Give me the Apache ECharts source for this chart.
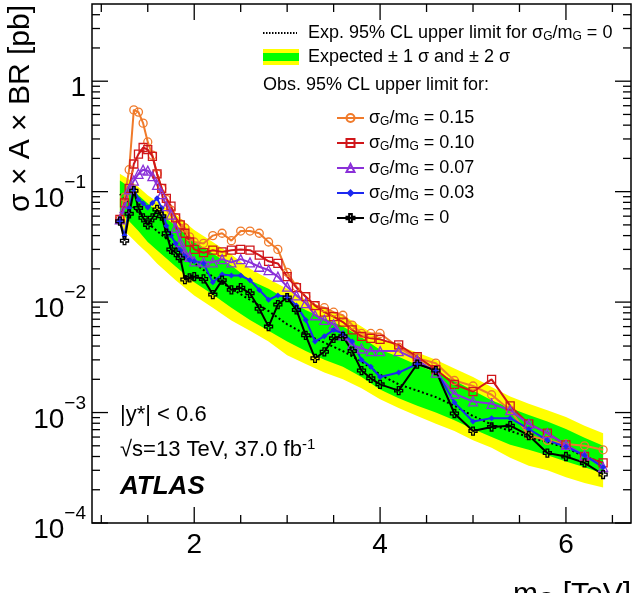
<!DOCTYPE html>
<html>
<head>
<meta charset="utf-8">
<script src="https://cdn.jsdelivr.net/npm/echarts@6/dist/echarts.min.js"></script>
<style>
  html, body { margin: 0; padding: 0; background: #fff; }
  #chart { width: 636px; height: 593px; }
</style>
</head>
<body>
<div id="chart"></div>
<script>
// resonance mass points (TeV)
const massTeV = [1.2, 1.25, 1.3, 1.35, 1.4, 1.45, 1.5, 1.55, 1.6, 1.65, 1.7, 1.75, 1.8, 1.85, 1.9, 1.95, 2.0,
  2.1, 2.2, 2.3, 2.4, 2.5, 2.6, 2.7, 2.8, 2.9, 3.0, 3.1, 3.2, 3.3, 3.4, 3.5, 3.6, 3.7, 3.8, 3.9, 4.0,
  4.2, 4.4, 4.6, 4.8, 5.0, 5.2, 5.4, 5.6, 5.8, 6.0, 6.2, 6.4]

// observed limits [pb] for each sigma_G/m_G
const obsWidth15 = [0.056, 0.089, 0.158, 0.55, 0.525, 0.417, 0.282, 0.214, 0.145, 0.107, 0.085, 0.068, 0.058, 0.051, 0.047, 0.039, 0.035,
  0.034, 0.040, 0.042, 0.036, 0.044, 0.044, 0.042, 0.035, 0.030, 0.0186, 0.0138, 0.0112, 0.0093, 0.0089, 0.0081, 0.0076, 0.0062, 0.0052, 0.0052, 0.0052,
  0.0039, 0.0031, 0.0028, 0.00195, 0.00174, 0.00145, 0.00105, 0.00062, 0.00056, 0.00052, 0.0005, 0.00046]
const obsWidth10 = [0.056, 0.079, 0.107, 0.178, 0.219, 0.251, 0.24, 0.209, 0.145, 0.107, 0.087, 0.074, 0.058, 0.050, 0.042, 0.035, 0.030,
  0.028, 0.0295, 0.0285, 0.0295, 0.030, 0.0295, 0.0266, 0.0234, 0.0224, 0.017, 0.0135, 0.0112, 0.0093, 0.0081, 0.0074, 0.0066, 0.0056, 0.0049, 0.0047, 0.0046,
  0.0041, 0.0032, 0.00245, 0.0018, 0.00155, 0.002, 0.00115, 0.00079, 0.00065, 0.00051, 0.0004, 0.00035]
const obsWidth07 = [0.056, 0.071, 0.105, 0.126, 0.145, 0.158, 0.155, 0.138, 0.115, 0.095, 0.074, 0.062, 0.047, 0.035, 0.028, 0.0257, 0.0234,
  0.0229, 0.0229, 0.0245, 0.0229, 0.0245, 0.0229, 0.0209, 0.0195, 0.017, 0.0138, 0.0115, 0.0098, 0.0076, 0.0069, 0.0063, 0.0050, 0.0041, 0.0038, 0.0036, 0.0036,
  0.0036, 0.0030, 0.0023, 0.00148, 0.00126, 0.0012, 0.00105, 0.00079, 0.00065, 0.00051, 0.00041, 0.00032]
const obsWidth03 = [0.054, 0.040, 0.071, 0.105, 0.085, 0.078, 0.072, 0.079, 0.087, 0.071, 0.049, 0.040, 0.034, 0.0295, 0.026, 0.024, 0.0234,
  0.0224, 0.0151, 0.0178, 0.0174, 0.0174, 0.0158, 0.0129, 0.0105, 0.0115, 0.0112, 0.0093, 0.0069, 0.0044, 0.0049, 0.0056, 0.0052, 0.0044, 0.0030, 0.0026, 0.0021,
  0.0023, 0.00275, 0.0024, 0.00123, 0.00083, 0.00089, 0.00089, 0.00071, 0.00056, 0.00049, 0.00041, 0.00032]
const obsWidth00 = [0.054, 0.036, 0.063, 0.102, 0.071, 0.058, 0.050, 0.058, 0.069, 0.060, 0.042, 0.030, 0.028, 0.025, 0.016, 0.0166, 0.017,
  0.0162, 0.0117, 0.0158, 0.0129, 0.0135, 0.012, 0.0087, 0.0060, 0.0095, 0.011, 0.0085, 0.0050, 0.0031, 0.00355, 0.0047, 0.0049, 0.0036, 0.0024, 0.00204, 0.0018,
  0.00158, 0.00275, 0.0024, 0.00098, 0.00068, 0.00074, 0.00076, 0.00062, 0.00043, 0.0004, 0.00035, 0.000275]

// expected limit (sigma_G/m_G = 0) and its bands [pb]
const bandMassTeV = [1.2, 1.3, 1.4, 1.5, 1.6, 1.8, 2.0, 2.2, 2.4, 2.6, 2.8, 3.0, 3.2, 3.4, 3.6, 3.8, 4.0, 4.2, 4.4, 4.6, 4.8, 5.0, 5.2, 5.4, 5.6, 5.8, 6.0, 6.2, 6.4]
const expLimit = [0.095, 0.079, 0.065, 0.052, 0.044, 0.032, 0.0224, 0.017, 0.0132, 0.0105, 0.0083, 0.0063, 0.0051, 0.0043, 0.0036, 0.0029, 0.0022, 0.0018, 0.00158, 0.00138, 0.00115, 0.00093, 0.00078, 0.00068, 0.0006, 0.00054, 0.00048, 0.0004, 0.00035]
const exp2SigUp = [0.145, 0.129, 0.11, 0.093, 0.081, 0.062, 0.045, 0.035, 0.027, 0.020, 0.0162, 0.0132, 0.0105, 0.0089, 0.0076, 0.006, 0.0047, 0.004, 0.0035, 0.0030, 0.0025, 0.0021, 0.0017, 0.0014, 0.0012, 0.00105, 0.00091, 0.00076, 0.00065]
const exp1SigUp = [0.126, 0.11, 0.093, 0.078, 0.066, 0.049, 0.035, 0.0275, 0.0214, 0.0158, 0.0132, 0.0105, 0.0085, 0.0071, 0.006, 0.0048, 0.0037, 0.0032, 0.0027, 0.0023, 0.00195, 0.00158, 0.00129, 0.0011, 0.00095, 0.00083, 0.00071, 0.00059, 0.0005]
const exp1SigDown = [0.066, 0.054, 0.044, 0.035, 0.0295, 0.021, 0.0151, 0.0117, 0.0089, 0.0069, 0.0055, 0.0044, 0.0036, 0.003, 0.0026, 0.0021, 0.00162, 0.00135, 0.00115, 0.001, 0.00085, 0.00071, 0.0006, 0.00051, 0.00046, 0.00041, 0.00036, 0.00032, 0.00028]
const exp2SigDown = [0.048, 0.040, 0.033, 0.0275, 0.0224, 0.0158, 0.0115, 0.0089, 0.0068, 0.0055, 0.0044, 0.0033, 0.00275, 0.0023, 0.002, 0.00166, 0.00132, 0.0011, 0.00093, 0.00079, 0.00068, 0.00056, 0.00048, 0.00039, 0.00033, 0.0003, 0.00026, 0.00023, 0.00021]

// axis ticks / labels
const xLabelValues = [2, 4, 6]
const xMinorTicks = [1, 1.5, 2.5, 3, 3.5, 4.5, 5, 5.5, 6.5]
const yMajorTicks = [1e-4, 1e-3, 1e-2, 1e-1, 1]

const X_MIN = 0.9
const X_MAX = 6.7
const Y_MIN = 1e-4
const Y_MAX = 5
const FONT = "'Liberation Sans', Arial, Helvetica, sans-serif"

const yMinorTicks = []
yMajorTicks.forEach(d => {
  for (let k = 2; k <= 9; k++) {
    if (d * k < Y_MAX) yMinorTicks.push(d * k)
  }
})

const subRich = {
  t: { fontSize: 18, lineHeight: 20, fontFamily: FONT, color: '#000' },
  s: { fontSize: 12, lineHeight: 10, verticalAlign: 'bottom', fontFamily: FONT, color: '#000' }
}
const widthLabel = v => `{t|σ}{s|G}{t|/m}{s|G}{t| = ${v}}`

const pairs = vals => massTeV.map((m, i) => [m, vals[i]])

function bandSeries(name, up, down, color) {
  return {
    type: 'custom',
    name: name,
    silent: true,
    z: 1,
    encode: { x: 0, y: 1 },
    data: bandMassTeV.map((m, i) => [m, up[i]]),
    renderItem(params, api) {
      if (params.dataIndex !== 0) return null
      const pts = []
      for (let i = 0; i < bandMassTeV.length; i++) pts.push(api.coord([bandMassTeV[i], up[i]]))
      for (let i = bandMassTeV.length - 1; i >= 0; i--) pts.push(api.coord([bandMassTeV[i], down[i]]))
      return { type: 'polygon', shape: { points: pts }, style: { fill: color } }
    }
  }
}

function obsSeries(name, vals, color, symbol, size) {
  return {
    type: 'line',
    name: name,
    data: pairs(vals),
    z: 5,
    symbol: symbol,
    symbolSize: size,
    showAllSymbol: true,
    lineStyle: { color: color, width: 2 },
    itemStyle: { color: 'rgba(0,0,0,0)', borderColor: color, borderWidth: 1.3 }
  }
}

const crossPath = 'path://M-1,-3L1,-3L1,-1L3,-1L3,1L1,1L1,3L-1,3L-1,1L-3,1L-3,-1L-1,-1Z'

const tickStyle = { stroke: '#000', lineWidth: 1.3 }

const chart = echarts.init(document.getElementById('chart'))

chart.setOption({
  animation: false,
  backgroundColor: '#fff',
  grid: {
    left: 92, right: 5, top: 4, bottom: 70,
    show: true, borderColor: '#000', borderWidth: 1.5, backgroundColor: 'transparent'
  },
  xAxis: {
    type: 'value',
    min: X_MIN,
    max: X_MAX,
    axisLine: { show: false },
    axisTick: { show: false },
    splitLine: { show: false },
    axisLabel: {
      customValues: xLabelValues,
      fontSize: 28,
      fontFamily: FONT,
      color: '#000',
      margin: 8
    }
  },
  yAxis: {
    type: 'log',
    logBase: 10,
    min: Y_MIN,
    max: Y_MAX,
    interval: 1,
    axisLine: { show: false },
    axisTick: { show: false },
    splitLine: { show: false },
    axisLabel: {
      margin: 6,
      padding: [3, 0, 0, 0],
      formatter(v) {
        const lg = Math.log10(v)
        const e = Math.round(lg)
        if (Math.abs(lg - e) > 0.01) return ''
        if (e === 0) return '{b|1}'
        return '{b|10}{sup|−' + (-e) + '}'
      },
      rich: {
        b: { fontSize: 28, lineHeight: 40, verticalAlign: 'bottom', fontFamily: FONT, color: '#000' },
        sup: { fontSize: 19, lineHeight: 18, verticalAlign: 'top', fontFamily: FONT, color: '#000' }
      }
    }
  },
  legend: {
    data: ['w15', 'w10', 'w07', 'w03', 'w00'],
    orient: 'vertical',
    left: 331,
    top: 104,
    itemWidth: 27,
    itemHeight: 10,
    itemGap: 6,
    selectedMode: false,
    formatter(name) {
      return widthLabel({ w15: '0.15', w10: '0.10', w07: '0.07', w03: '0.03', w00: '0' }[name])
    },
    textStyle: { fontSize: 18, fontFamily: FONT, color: '#000', rich: subRich }
  },
  graphic: [
    { type: 'line', shape: { x1: 263, y1: 33, x2: 297, y2: 33 }, style: { stroke: '#000', lineWidth: 2, lineDash: [1.5, 1.5] } },
    { type: 'text', x: 308, y: 33, style: { text: '{t|Exp. 95% CL upper limit for }' + widthLabel('0'), rich: subRich, fill: '#000', textVerticalAlign: 'middle', verticalAlign: 'middle' } },
    { type: 'rect', shape: { x: 263, y: 49, width: 36, height: 16 }, style: { fill: '#ffff00' } },
    { type: 'rect', shape: { x: 263, y: 53, width: 36, height: 8 }, style: { fill: '#00ff00' } },
    { type: 'text', x: 308, y: 57, style: { text: 'Expected ± 1 σ and ± 2 σ', font: '18px ' + FONT, fill: '#000', textVerticalAlign: 'middle', verticalAlign: 'middle' } },
    { type: 'text', x: 263, y: 85, style: { text: 'Obs. 95% CL upper limit for:', font: '18px ' + FONT, fill: '#000', textVerticalAlign: 'middle', verticalAlign: 'middle' } },
    { type: 'text', x: 120, y: 415, style: { text: '|y*| < 0.6', font: '22px ' + FONT, fill: '#000', textVerticalAlign: 'middle', verticalAlign: 'middle' } },
    {
      type: 'text', x: 120, y: 450,
      style: {
        text: '{n|√s=13 TeV, 37.0 fb}{p|-1}',
        rich: {
          n: { fontSize: 22, lineHeight: 26, fontFamily: FONT, color: '#000' },
          p: { fontSize: 15, lineHeight: 14, verticalAlign: 'top', fontFamily: FONT, color: '#000' }
        },
        textVerticalAlign: 'middle', verticalAlign: 'middle'
      }
    },
    { type: 'text', x: 120, y: 487, style: { text: 'ATLAS', font: 'italic bold 26px ' + FONT, fill: '#000', textVerticalAlign: 'middle', verticalAlign: 'middle' } },
    {
      type: 'text', x: 631, y: 595,
      style: {
        text: '{m|m}{g|G}{m| [TeV]}',
        rich: {
          m: { fontSize: 30, lineHeight: 32, fontFamily: FONT, color: '#000' },
          g: { fontSize: 21, lineHeight: 15, verticalAlign: 'bottom', fontFamily: FONT, color: '#000' }
        },
        textAlign: 'right', align: 'right', textVerticalAlign: 'middle', verticalAlign: 'middle'
      }
    },
    {
      type: 'text', x: 21, y: 5, rotation: Math.PI / 2,
      style: { text: 'σ × A × BR [pb]', font: '30px ' + FONT, fill: '#000', textAlign: 'right', align: 'right', textVerticalAlign: 'middle', verticalAlign: 'middle' }
    }
  ],
  series: [
    bandSeries('band2', exp2SigUp, exp2SigDown, '#ffff00'),
    bandSeries('band1', exp1SigUp, exp1SigDown, '#00ff00'),
    {
      type: 'line',
      name: 'exp',
      data: bandMassTeV.map((m, i) => [m, expLimit[i]]),
      symbol: 'none',
      z: 3,
      lineStyle: { color: '#000', width: 2, type: [2, 2.5] }
    },
    obsSeries('w15', obsWidth15, '#f07a2a', 'circle', 8),
    obsSeries('w10', obsWidth10, '#d0161a', 'rect', 8),
    obsSeries('w07', obsWidth07, '#8a30d8', 'triangle', 9),
    {
      type: 'line',
      name: 'w03',
      data: pairs(obsWidth03),
      z: 5,
      symbol: 'diamond',
      symbolSize: 6,
      showAllSymbol: true,
      lineStyle: { color: '#1c28f0', width: 2 },
      itemStyle: { color: '#1c28f0' }
    },
    obsSeries('w00', obsWidth00, '#000000', crossPath, 8),
    {
      // x ticks, bottom and top
      type: 'custom',
      name: 'xticks',
      silent: true,
      z: 10,
      encode: { x: 0, y: 1 },
      data: xLabelValues.map(v => [v, Y_MIN, 16]).concat(xMinorTicks.map(v => [v, Y_MIN, 8])),
      renderItem(params, api) {
        const v = api.value(0)
        const len = api.value(2)
        const b = api.coord([v, Y_MIN])
        const t = api.coord([v, Y_MAX])
        return {
          type: 'group',
          children: [
            { type: 'line', shape: { x1: b[0], y1: b[1], x2: b[0], y2: b[1] - len }, style: tickStyle },
            { type: 'line', shape: { x1: t[0], y1: t[1], x2: t[0], y2: t[1] + len }, style: tickStyle }
          ]
        }
      }
    },
    {
      // y ticks, left and right
      type: 'custom',
      name: 'yticks',
      silent: true,
      z: 10,
      encode: { x: 0, y: 1 },
      data: yMajorTicks.map(v => [X_MIN, v, 16]).concat(yMinorTicks.map(v => [X_MIN, v, 8])),
      renderItem(params, api) {
        const v = api.value(1)
        const len = api.value(2)
        const l = api.coord([X_MIN, v])
        const r = api.coord([X_MAX, v])
        return {
          type: 'group',
          children: [
            { type: 'line', shape: { x1: l[0], y1: l[1], x2: l[0] + len, y2: l[1] }, style: tickStyle },
            { type: 'line', shape: { x1: r[0], y1: r[1], x2: r[0] - len, y2: r[1] }, style: tickStyle }
          ]
        }
      }
    }
  ]
})
</script>
</body>
</html>
